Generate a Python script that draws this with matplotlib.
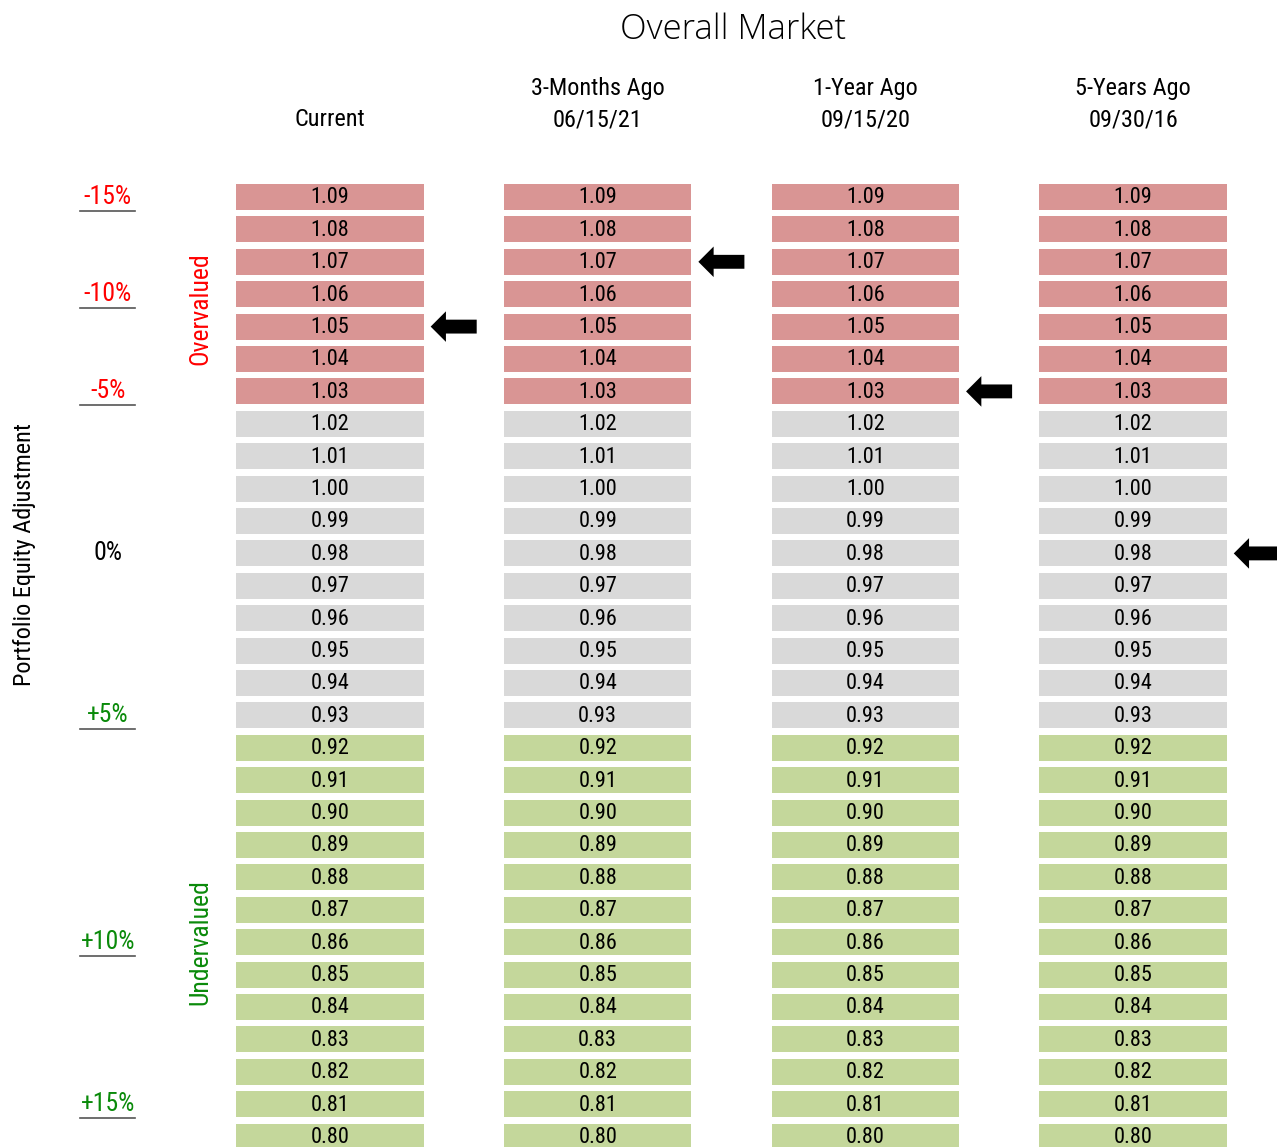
import matplotlib
matplotlib.use("Agg")
import matplotlib.pyplot as plt
from matplotlib import font_manager
from matplotlib.patches import FancyArrowPatch, ArrowStyle
import numpy as np

# data
values = np.round(np.arange(1.09, 0.795, -0.01), 2)
columns = ["Current", "3-Months Ago\n06/15/21", "1-Year Ago\n09/15/20", "5-Years Ago\n09/30/16"]
arrow_values = [1.05, 1.07, 1.03, 0.98]
adj_labels = ["-15%", "-10%", "-5%", "0%", "+5%", "+10%", "+15%"]
adj_rows = [1.09, 1.06, 1.03, 0.98, 0.93, 0.86, 0.81]
over_cut = 1.03   # >= this is overvalued
under_cut = 0.92  # <= this is undervalued

RED = "#d99594"
GREY = "#d9d9d9"
GREEN = "#c4d79b"
TXT_RED = "#ff0000"
TXT_GREEN = "#0a8a0a"

# pick a narrow font if one is around
installed = {f.name for f in font_manager.fontManager.ttflist}
narrow = None
for cand in ['Liberation Sans Narrow', 'Arial Narrow', 'Roboto Condensed',
             'DejaVu Sans Condensed', 'Open Sans Condensed']:
    if cand in installed:
        narrow = cand
        break
stretch = 'normal'
if narrow is None:
    narrow = 'Liberation Sans'
    stretch = 'condensed'
plt.rcParams['font.family'] = [narrow, 'DejaVu Sans']

fig = plt.figure(figsize=(12.77, 11.47), dpi=100)
ax = fig.add_axes([0, 0, 1, 1])
ax.set_xlim(-1.2327, 3.5375)
ax.set_ylim(0.7968, 1.1508)
ax.axis('off')

cell_w = 0.70
cell_h = 0.008


def cell_color(v):
    if v >= over_cut - 1e-9:
        return RED
    if v <= under_cut + 1e-9:
        return GREEN
    return GREY


for i, col in enumerate(columns):
    ax.barh(values, cell_w, left=i - cell_w / 2, height=cell_h,
            color=[cell_color(v) for v in values], linewidth=0)
    for v in values:
        ax.text(i, v - 0.0003, f"{v:.2f}", ha='center', va='center', fontsize=16, color='black')
    # headers
    lines = col.split("\n")
    if len(lines) == 2:
        ax.text(i, 1.1235, lines[0], ha='center', va='center', fontsize=17.5)
        ax.text(i, 1.1139, lines[1], ha='center', va='center', fontsize=17.5)
    else:
        ax.text(i, 1.1139, lines[0], ha='center', va='center', fontsize=17.5)

    # arrow pointing at current reading
    av = arrow_values[i]
    arr = FancyArrowPatch((i + cell_w / 2 + 0.198, av), (i + cell_w / 2 + 0.026, av),
                          arrowstyle=ArrowStyle.Simple(head_length=1.1, head_width=2.2, tail_width=1.0),
                          mutation_scale=10, color='black', shrinkA=0, shrinkB=0, linewidth=0)
    ax.add_patch(arr)

# left adjustment labels
for lab, r in zip(adj_labels, adj_rows):
    if lab.startswith("-"):
        c = TXT_RED
    elif lab.startswith("+"):
        c = TXT_GREEN
    else:
        c = 'black'
    ax.text(-0.83, r, lab, ha='center', va='center', fontsize=18.5, color=c)
    if lab != "0%":
        ax.plot([-0.935, -0.73], [r - 0.0043, r - 0.0043], color='#555555', linewidth=1.2)

ax.text(-0.486, 1.0557, "Overvalued", rotation=90, ha='center', va='center', fontsize=18.5, color=TXT_RED)
ax.text(-0.486, 0.86, "Undervalued", rotation=90, ha='center', va='center', fontsize=18.5, color=TXT_GREEN)
ax.text(-1.143, 0.9795, "Portfolio Equity Adjustment", rotation=90, ha='center', va='center',
        fontsize=17.5, color='black')

ax.text(1.505, 1.1415, "Overall Market", ha='center', va='center', fontsize=25,
        family=['Open Sans', 'DejaVu Sans'], fontweight='light')

if stretch != 'normal':
    for t in ax.texts[:-1]:
        t.set_fontstretch(stretch)

fig.savefig("out.png", dpi=100)
